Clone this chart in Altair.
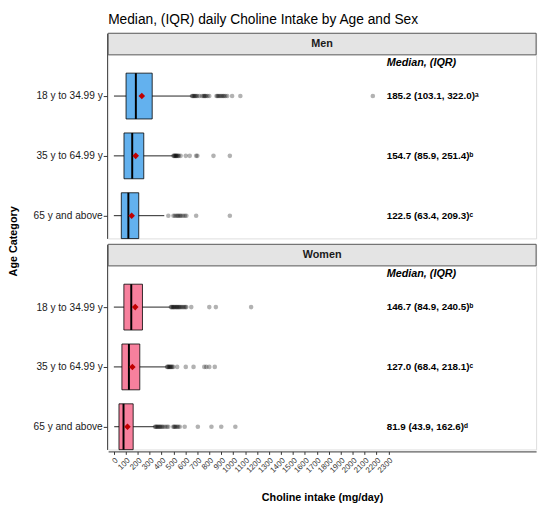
import altair as alt
import pandas as pd

# ---- data ----
sexes = ["Men", "Women"]
age_labels = ["18 y to 34.99 y", "35 y to 64.99 y", "65 y and above"]
age_rows = [3, 2, 1]  # vertical position index of each age category

# order: Men 18-34, Men 35-64, Men 65+, Women 18-34, Women 35-64, Women 65+
medians = [185.2, 154.7, 122.5, 146.7, 127.0, 81.9]
q1s = [103.1, 85.9, 63.4, 84.9, 68.4, 43.9]
q3s = [322.0, 251.4, 209.3, 240.5, 218.1, 162.6]
whisk_lo = [2, 1, 1, 1, 1, 4]
whisk_hi = [650, 493, 423, 471, 440, 340]
means = [235, 184, 150, 180, 156, 115]
sup = ["a", "b", "c", "b", "c", "d"]
sup_chars = {"a": "\u1d43", "b": "\u1d47", "c": "\u1d9c", "d": "\u1d48"}

outliers = [
    [655, 662, 668, 675, 682, 690, 700, 717, 740, 752, 758, 765, 772, 785, 800,
     860, 868, 875, 885, 895, 905, 915, 923, 935, 950, 991, 1060, 2169],
    [500, 505, 510, 515, 520, 525, 530, 538, 545, 560, 603, 636, 690, 700, 835, 972],
    [457, 500, 512, 525, 535, 545, 555, 565, 580, 595, 608, 690, 972],
    [478, 485, 490, 497, 503, 510, 517, 525, 530, 538, 545, 552, 560, 570, 580,
     590, 600, 608, 649, 800, 855, 1150],
    [447, 452, 458, 463, 470, 476, 482, 490, 498, 531, 603, 668, 758, 775, 800, 846],
    [345, 352, 358, 365, 372, 380, 388, 395, 405, 415, 430, 445, 457, 498, 505,
     512, 520, 530, 540, 553, 594, 704, 818, 900, 1018],
]

x_ticks = list(range(0, 2301, 100))
x_domain = [-47, 3536]
y_domain = [0.62, 4.05]
text_x = 2285
header_y = 3.55

# ---- build one long table ----
recs = []
for s in sexes:
    recs.append({"sex": s, "kind": "strip"})
i = 0
for s in sexes:
    for a, r in zip(age_labels, age_rows):
        label = f"{medians[i]:.1f} ({q1s[i]:.1f}, {q3s[i]:.1f})" + sup_chars[sup[i]]
        recs.append({"sex": s, "kind": "box", "age": a, "row": r,
                     "median": medians[i], "q1": q1s[i], "q3": q3s[i],
                     "lo": whisk_lo[i], "hi": whisk_hi[i], "mean": means[i],
                     "label": label})
        for v in outliers[i]:
            recs.append({"sex": s, "kind": "out", "age": a, "row": r, "val": v})
        i += 1
df = pd.DataFrame(recs)

FONT = "Liberation Sans"
W, H = 436, 209

xsc = alt.Scale(domain=x_domain, nice=False, zero=False)
ysc = alt.Scale(domain=y_domain, nice=False, zero=False)

label_expr = " : ".join(
    [f"datum.value == {r} ? '{a}'" for a, r in zip(age_labels[:-1], age_rows[:-1])]
) + f" : '{age_labels[-1]}'"

xaxis = alt.Axis(values=x_ticks, format="d", labelAngle=-45, labelFontSize=8, labelColor="#333",
                 title="Choline intake (mg/day)", titleFontSize=11, titleFontWeight="bold",
                 titleColor="black", titlePadding=18, tickColor="#333", domainColor="#333",
                 tickSize=3, grid=False, labelPadding=2, labelFlush=False, labelOverlap=False)
yaxis = alt.Axis(values=age_rows, labelExpr=label_expr, labelFontSize=10.3, labelColor="#1a1a1a",
                 title=None, tickColor="#333", domainColor="#333", tickSize=4, grid=False,
                 labelPadding=1)

base = alt.Chart(df)

strip = base.transform_filter("datum.kind == 'strip'").mark_rect(
    fill="#e4e4e4", stroke="#555", strokeWidth=1
).encode(x=alt.value(0), x2=alt.value(W), y=alt.value(0), y2=alt.value(22))

strip_text = base.transform_filter("datum.kind == 'strip'").mark_text(
    font=FONT, fontSize=11, fontWeight="bold", color="#1a1a1a"
).encode(x=alt.value(W / 2), y=alt.value(11), text="sex:N")

head_text = base.transform_filter("datum.kind == 'strip'").mark_text(
    font=FONT, fontSize=11, fontWeight="bold", fontStyle="italic", align="left", color="black"
).encode(x=alt.datum(text_x, scale=xsc, axis=xaxis), y=alt.datum(header_y, scale=ysc, axis=yaxis),
         text=alt.value("Median, (IQR)"))

boxes = base.transform_filter("datum.kind == 'box'").transform_calculate(
    ylo="datum.row - 0.383", yhi="datum.row + 0.383"
)

whisk = boxes.mark_rule(color="#222", strokeWidth=1).encode(
    x=alt.X("lo:Q", scale=xsc, axis=xaxis), x2="hi:Q",
    y=alt.Y("row:Q", scale=ysc, axis=yaxis))

rect = boxes.mark_rect(stroke="black", strokeWidth=0.8).encode(
    x=alt.X("q1:Q", scale=xsc, axis=xaxis), x2="q3:Q",
    y=alt.Y("ylo:Q", scale=ysc, axis=yaxis), y2="yhi:Q",
    fill=alt.Fill("sex:N", scale=alt.Scale(domain=sexes, range=["#63b1ee", "#f7809d"]),
                  legend=None))

med = boxes.mark_rule(color="black", strokeWidth=2).encode(
    x=alt.X("median:Q", scale=xsc, axis=xaxis), y=alt.Y("ylo:Q", scale=ysc, axis=yaxis), y2="yhi:Q")

outs = base.transform_filter("datum.kind == 'out'").mark_circle(
    color="black", opacity=0.3, size=22
).encode(x=alt.X("val:Q", scale=xsc, axis=xaxis), y=alt.Y("row:Q", scale=ysc, axis=yaxis))

mean_pt = boxes.mark_point(shape="diamond", filled=True, color="#c00000", opacity=1, size=45).encode(
    x=alt.X("mean:Q", scale=xsc, axis=xaxis), y=alt.Y("row:Q", scale=ysc, axis=yaxis))

stats = boxes.mark_text(font=FONT, fontSize=10, fontWeight="bold", align="left",
                        color="black").encode(
    x=alt.datum(text_x, scale=xsc, axis=xaxis), y=alt.Y("row:Q", scale=ysc, axis=yaxis),
    text="label:N")

layer = alt.layer(whisk, rect, med, outs, mean_pt, stats, head_text, strip, strip_text).properties(
    width=W, height=H)

chart = layer.facet(
    row=alt.Row("sex:N", sort=sexes, title="Age Category",
                header=alt.Header(labels=False, titleOrient="left", titleFont=FONT,
                                  titleFontSize=11, titleFontWeight="bold", titleColor="black",
                                  titlePadding=4)),
    spacing=3,
).properties(
    title=alt.TitleParams("Median, (IQR) daily Choline Intake by Age and Sex", anchor="start",
                          frame="group", fontSize=14, fontWeight="normal", font=FONT,
                          color="black", offset=5),
    padding={"left": 0, "top": 1, "right": 5, "bottom": 5},
).configure_view(stroke=None).configure(font=FONT).configure_axis(labelFont=FONT, titleFont=FONT)

chart.save("out.html", embed_options={"renderer": "svg", "actions": False})
